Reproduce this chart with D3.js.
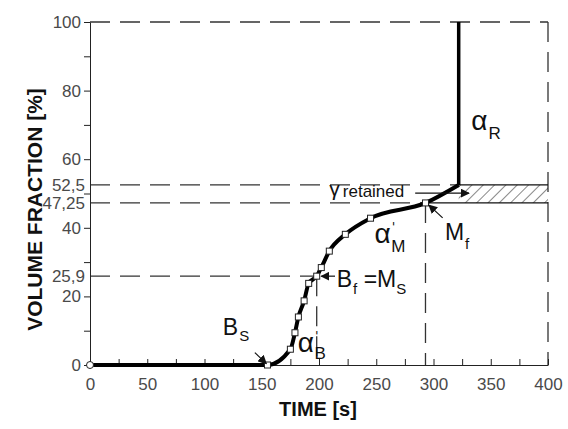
<!DOCTYPE html>
<html>
<head>
<meta charset="utf-8">
<script src="https://cdn.jsdelivr.net/npm/d3@7"></script>
<style>
  body { margin: 0; background: #fff; }
  svg { display: block; font-family: "Liberation Sans", Arial, sans-serif; }
</style>
</head>
<body>
<svg id="chart" width="568" height="429"></svg>
<script>
// transformation curve
const timeS    = [0, 155, 175, 179, 182, 187, 191, 198, 202, 209, 223, 245, 293, 322];
const fraction = [0, 0, 4.6, 9.4, 14, 18.7, 23.8, 25.9, 28.4, 33.2, 38.1, 42.8, 47.25, 52.5];
const markerCount = 13; // last point (start of alpha_R jump) has no marker

const xTicks = [0, 50, 100, 150, 200, 250, 300, 350, 400];
const xMinor = [25, 75, 125, 175, 225, 275, 325, 375];
const yTicks = [0, 20, 40, 60, 80, 100];
const yMinor = [10, 30, 50, 70, 90];
const yMarked = [52.5, 47.25, 25.9];
const yMarkedLabels = ["52,5", "47,25", "25,9"];

const bFinish = { t: 198, v: 25.9 };
const mFinish = { t: 293, v: 47.25 };
const retained = { t0: 322, top: 52.5, bottom: 47.25 };

const svg = d3.select("#chart");
const margin = { top: 22, right: 20, bottom: 64, left: 90 };
const width = 568, height = 429;

const x = d3.scaleLinear().domain([0, 400]).range([margin.left, width - margin.right]);
const y = d3.scaleLinear().domain([0, 100]).range([height - margin.bottom, margin.top]);

const defs = svg.append("defs");
defs.append("pattern")
  .attr("id", "hatch")
  .attr("patternUnits", "userSpaceOnUse")
  .attr("width", 8).attr("height", 8)
  .attr("patternTransform", "rotate(45)")
  .append("line")
  .attr("x1", 0).attr("y1", 0).attr("x2", 0).attr("y2", 8)
  .attr("stroke", "#111").attr("stroke-width", 1);

defs.append("marker")
  .attr("id", "arrow")
  .attr("viewBox", "0 0 10 10")
  .attr("refX", 9).attr("refY", 5)
  .attr("markerWidth", 9).attr("markerHeight", 9)
  .attr("markerUnits", "userSpaceOnUse")
  .attr("orient", "auto")
  .append("path")
  .attr("d", "M0,0 L10,5 L0,10 z")
  .attr("fill", "#111");

const dash = "20,10";
const dashColor = "#333";

function dashed(x1, y1, x2, y2) {
  svg.append("line")
    .attr("x1", x(x1)).attr("y1", y(y1))
    .attr("x2", x(x2)).attr("y2", y(y2))
    .attr("stroke", dashColor).attr("stroke-width", 1.3)
    .attr("stroke-dasharray", dash);
}

// frame
dashed(0, 100, 400, 100);
dashed(400, 100, 400, 0);
dashed(0, retained.top, retained.t0, retained.top);
dashed(0, retained.bottom, mFinish.t, retained.bottom);
dashed(0, bFinish.v, bFinish.t, bFinish.v);
dashed(bFinish.t, bFinish.v, bFinish.t, 0);
dashed(mFinish.t, mFinish.v, mFinish.t, 0);

// retained austenite box
svg.append("rect")
  .attr("x", x(retained.t0))
  .attr("y", y(retained.top))
  .attr("width", x(400) - x(retained.t0))
  .attr("height", y(retained.bottom) - y(retained.top))
  .attr("fill", "url(#hatch)");
svg.append("line")
  .attr("x1", x(retained.t0)).attr("x2", x(400))
  .attr("y1", y(retained.top)).attr("y2", y(retained.top))
  .attr("stroke", "#111").attr("stroke-width", 1.2);
svg.append("line")
  .attr("x1", x(mFinish.t)).attr("x2", x(400))
  .attr("y1", y(retained.bottom)).attr("y2", y(retained.bottom))
  .attr("stroke", "#111").attr("stroke-width", 1.2);

// axes
svg.append("g")
  .attr("transform", `translate(0,${y(0)})`)
  .call(d3.axisBottom(x).tickValues(xTicks).tickSizeInner(-6).tickSizeOuter(0).tickPadding(13));
svg.append("g")
  .attr("transform", `translate(0,${y(0)})`)
  .call(d3.axisBottom(x).tickValues(xMinor).tickSizeInner(-6).tickSizeOuter(0).tickFormat(""))
  .call(g => g.select(".domain").remove());

svg.append("g")
  .attr("transform", `translate(${x(0)},0)`)
  .call(d3.axisLeft(y).tickValues(yTicks).tickSizeInner(6).tickSizeOuter(0).tickPadding(3));
svg.append("g")
  .attr("transform", `translate(${x(0)},0)`)
  .call(d3.axisLeft(y).tickValues(yMinor).tickSizeInner(6).tickSizeOuter(0).tickFormat(""))
  .call(g => g.select(".domain").remove());
svg.append("g")
  .attr("transform", `translate(${x(0)},0)`)
  .call(d3.axisLeft(y).tickValues(yMarked).tickSize(0).tickPadding(5)
    .tickFormat((d, i) => yMarkedLabels[i]))
  .call(g => g.select(".domain").remove());

svg.selectAll(".tick text")
  .attr("font-size", 17)
  .attr("font-family", "Liberation Sans, Arial, sans-serif")
  .attr("fill", "#4a4a4a");
svg.selectAll(".tick line, .domain").attr("stroke", "#222");

// axis titles
svg.append("text")
  .attr("transform", `translate(42,${(y(0) + y(100)) / 2 + 16}) rotate(-90)`)
  .attr("text-anchor", "middle")
  .attr("font-size", 21).attr("font-weight", "bold")
  .attr("fill", "#111")
  .text("VOLUME FRACTION [%]");
svg.append("text")
  .attr("x", (x(0) + x(400)) / 2 - 1)
  .attr("y", 416)
  .attr("text-anchor", "middle")
  .attr("font-size", 20).attr("font-weight", "bold")
  .attr("fill", "#111")
  .text("TIME [s]");

// curve
const points = timeS.map((t, i) => ({ t, v: fraction[i] }));
const line = d3.line().x(d => x(d.t)).y(d => y(d.v)).curve(d3.curveMonotoneX);
svg.append("path")
  .datum(points)
  .attr("d", line)
  .attr("fill", "none")
  .attr("stroke", "#000")
  .attr("stroke-width", 4)
  .attr("stroke-linejoin", "round");
// alpha_R jump
svg.append("line")
  .attr("x1", x(retained.t0)).attr("x2", x(retained.t0))
  .attr("y1", y(retained.top)).attr("y2", y(100))
  .attr("stroke", "#000").attr("stroke-width", 3.5);

svg.selectAll("rect.pt")
  .data(points.slice(1, markerCount))
  .join("rect")
  .attr("class", "pt")
  .attr("x", d => x(d.t) - 3).attr("y", d => y(d.v) - 3)
  .attr("width", 6).attr("height", 6)
  .attr("fill", "#fff").attr("stroke", "#222").attr("stroke-width", 1);
svg.append("circle")
  .attr("cx", x(0)).attr("cy", y(0)).attr("r", 3.5)
  .attr("fill", "#fff").attr("stroke", "#222").attr("stroke-width", 1);

// arrows
function arrow(t1, v1, t2, v2) {
  svg.append("line")
    .attr("x1", x(t1)).attr("y1", y(v1))
    .attr("x2", x(t2)).attr("y2", y(v2))
    .attr("stroke", "#111").attr("stroke-width", 1.2)
    .attr("marker-end", "url(#arrow)");
}
arrow(144, 3.6, 154, 0.4);
arrow(214, 25.9, 202, 25.9);
arrow(308, 42.9, 296, 46.6);
arrow(284, 50.1, 331, 50.1);

// labels
function label(t, v, main, sub, opts = {}) {
  const size = opts.size || 24;
  const subSize = opts.subSize || 16;
  const subDy = opts.subDy || 6;
  const txt = svg.append("text")
    .attr("x", x(t)).attr("y", y(v))
    .attr("font-size", size)
    .attr("fill", "#111");
  txt.append("tspan").text(main);
  if (opts.prime) {
    txt.append("tspan")
      .attr("font-family", "DejaVu Sans, sans-serif")
      .attr("font-size", 13).attr("dx", 1).attr("dy", -size * 0.42).text("'");
    txt.append("tspan").attr("font-size", subSize).attr("dx", -4).attr("dy", size * 0.42 + subDy).text(sub);
  } else {
    txt.append("tspan").attr("font-size", subSize).attr("dx", opts.subDx || 1).attr("dy", subDy).text(sub);
  }
  if (opts.tail) {
    txt.append("tspan").attr("dy", -subDy).text(opts.tail);
    txt.append("tspan").attr("font-size", subSize).attr("dy", subDy).text(opts.tailSub);
  }
  return txt;
}

label(333, 68.5, "α", "R", { size: 28, subSize: 17, subDy: 9 });
label(209, 49.2, "γ", "retained", { size: 21, subSize: 17, subDy: 1, subDx: 3 });
label(248.5, 35.6, "α", "M", { size: 28, subSize: 17, subDy: 9, prime: true });
label(310, 36.3, "M", "f", { size: 23, subSize: 15, subDy: 9 });
label(215.5, 22.7, "B", "f", { size: 23, subSize: 15, subDy: 7, tail: " =M", tailSub: "S" });
label(116, 8.7, "B", "S", { size: 23, subSize: 15, subDy: 6 });
label(181.5, 3.9, "α", "B", { size: 28, subSize: 17, subDy: 7, prime: true });
</script>
</body>
</html>
